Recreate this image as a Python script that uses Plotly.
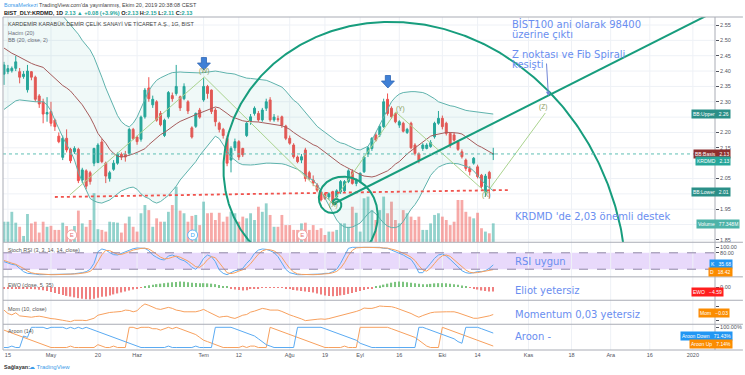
import numpy as np
import plotly.graph_objects as go

# ---------------- data ----------------
opens = [2.390, 2.398, 2.401, 2.409, 2.398, 2.382, 2.339, 2.398, 2.380, 2.319, 2.300, 2.260, 2.268, 2.240, 2.188, 2.119,
         2.181, 2.145, 2.137, 2.145, 2.045, 2.075, 2.069, 2.100, 2.102, 2.169, 2.100, 2.050, 2.080, 2.100, 2.129, 2.129,
         2.132, 2.210, 2.185, 2.178, 2.251, 2.345, 2.290, 2.300, 2.262, 2.190, 2.251, 2.320, 2.327, 2.316, 2.310, 2.300,
         2.215, 2.220, 2.273, 2.306, 2.350, 2.338, 2.273, 2.230, 2.210, 2.180, 2.110, 2.150, 2.170, 2.148, 2.190, 2.235,
         2.262, 2.262, 2.241, 2.279, 2.306, 2.241, 2.245, 2.251, 2.221, 2.181, 2.159, 2.120, 2.110, 2.143, 2.069, 2.045,
         2.029, 2.007, 2.000, 1.990, 2.007, 1.990, 2.007, 2.010, 2.040, 2.072, 2.034, 2.040, 2.072, 2.130, 2.148, 2.192,
         2.192, 2.219, 2.308, 2.279, 2.262, 2.224, 2.230, 2.200, 2.230, 2.159, 2.130, 2.148, 2.148, 2.154, 2.186, 2.230,
         2.246, 2.230, 2.197, 2.192, 2.170, 2.137, 2.110, 2.083, 2.100, 2.088, 2.061, 2.006, 2.070, 2.130]
highs = [2.430, 2.420, 2.415, 2.450, 2.410, 2.400, 2.420, 2.400, 2.385, 2.325, 2.310, 2.315, 2.300, 2.245, 2.200, 2.190,
         2.210, 2.150, 2.155, 2.150, 2.085, 2.080, 2.075, 2.150, 2.165, 2.180, 2.105, 2.075, 2.110, 2.135, 2.135, 2.140,
         2.215, 2.215, 2.190, 2.255, 2.345, 2.380, 2.320, 2.305, 2.270, 2.245, 2.335, 2.330, 2.420, 2.320, 2.360, 2.305,
         2.220, 2.265, 2.280, 2.378, 2.355, 2.340, 2.280, 2.235, 2.215, 2.190, 2.155, 2.180, 2.175, 2.150, 2.235, 2.260,
         2.285, 2.270, 2.280, 2.310, 2.315, 2.260, 2.255, 2.255, 2.225, 2.190, 2.165, 2.125, 2.130, 2.150, 2.075, 2.060,
         2.035, 2.010, 2.005, 2.005, 2.010, 2.015, 2.045, 2.045, 2.080, 2.080, 2.050, 2.070, 2.125, 2.155, 2.185, 2.200,
         2.225, 2.310, 2.327, 2.285, 2.265, 2.240, 2.235, 2.215, 2.235, 2.165, 2.135, 2.165, 2.165, 2.175, 2.235, 2.270,
         2.255, 2.235, 2.200, 2.200, 2.175, 2.145, 2.115, 2.090, 2.120, 2.095, 2.065, 2.065, 2.075, 2.150]
lows = [2.355, 2.390, 2.395, 2.400, 2.360, 2.375, 2.330, 2.370, 2.300, 2.280, 2.230, 2.235, 2.220, 2.205, 2.165, 2.110,
        2.135, 2.100, 2.130, 2.035, 2.035, 2.015, 2.030, 2.090, 2.100, 2.100, 2.035, 2.040, 2.075, 2.095, 2.110, 2.105,
        2.125, 2.175, 2.160, 2.170, 2.245, 2.300, 2.280, 2.235, 2.220, 2.185, 2.245, 2.300, 2.320, 2.270, 2.305, 2.260,
        2.180, 2.215, 2.245, 2.300, 2.310, 2.260, 2.220, 2.200, 2.180, 2.090, 2.070, 2.140, 2.110, 2.120, 2.185, 2.225,
        2.255, 2.235, 2.235, 2.270, 2.235, 2.235, 2.235, 2.215, 2.175, 2.160, 2.115, 2.100, 2.100, 2.040, 2.045, 2.025,
        2.005, 1.975, 1.980, 1.980, 1.965, 1.985, 2.000, 2.005, 2.035, 2.030, 2.025, 2.035, 2.068, 2.120, 2.140, 2.170,
        2.185, 2.215, 2.255, 2.245, 2.230, 2.215, 2.200, 2.195, 2.145, 2.125, 2.100, 2.140, 2.145, 2.150, 2.180, 2.225,
        2.210, 2.190, 2.150, 2.170, 2.140, 2.115, 2.075, 2.060, 2.095, 2.050, 2.015, 1.990, 1.985, 2.110]
closes = [2.420, 2.408, 2.409, 2.430, 2.380, 2.390, 2.400, 2.380, 2.308, 2.293, 2.260, 2.265, 2.230, 2.219, 2.170, 2.181,
          2.143, 2.108, 2.148, 2.043, 2.078, 2.025, 2.040, 2.148, 2.159, 2.105, 2.058, 2.069, 2.100, 2.129, 2.120, 2.120,
          2.210, 2.180, 2.170, 2.250, 2.338, 2.310, 2.308, 2.240, 2.225, 2.240, 2.330, 2.310, 2.350, 2.280, 2.350, 2.270,
          2.185, 2.262, 2.250, 2.350, 2.327, 2.268, 2.235, 2.210, 2.190, 2.100, 2.148, 2.170, 2.120, 2.127, 2.230, 2.251,
          2.279, 2.241, 2.273, 2.300, 2.241, 2.250, 2.242, 2.224, 2.181, 2.165, 2.121, 2.105, 2.121, 2.050, 2.050, 2.035,
          2.012, 1.980, 1.985, 2.000, 1.975, 2.010, 2.040, 2.040, 2.075, 2.034, 2.045, 2.067, 2.120, 2.150, 2.181, 2.175,
          2.219, 2.300, 2.262, 2.251, 2.235, 2.235, 2.204, 2.210, 2.150, 2.132, 2.110, 2.159, 2.159, 2.167, 2.230, 2.246,
          2.219, 2.197, 2.159, 2.175, 2.145, 2.121, 2.083, 2.072, 2.116, 2.056, 2.024, 2.058, 2.050, 2.130]
volume_m = [84, 84, 125, 80, 63, 25, 116, 77, 84, 39, 84, 63, 67, 50, 50, 80,
            66, 50, 66, 130, 77, 63, 91, 202, 53, 50, 43, 84, 82, 80, 39, 77,
            105, 63, 43, 119, 153, 132, 63, 98, 84, 84, 125, 153, 229, 130, 119, 84,
            108, 112, 70, 167, 119, 121, 91, 121, 84, 105, 125, 119, 84, 105, 98, 119,
            91, 146, 125, 160, 112, 63, 63, 112, 70, 70, 50, 50, 77, 80, 50, 70,
            50, 57, 29, 43, 43, 50, 77, 77, 63, 146, 121, 43, 181, 188, 132, 91,
            132, 188, 119, 167, 91, 77, 132, 119, 105, 91, 105, 50, 50, 77, 112, 119,
            105, 91, 70, 84, 174, 174, 125, 105, 98, 121, 57, 43, 36, 77.348]
bb_upper = [2.66, 2.66, 2.66, 2.66, 2.66, 2.66, 2.66, 2.66, 2.65, 2.645, 2.64, 2.63, 2.62, 2.61, 2.595, 2.58,
            2.565, 2.55, 2.535, 2.52, 2.50, 2.485, 2.469, 2.445, 2.415, 2.38, 2.345, 2.315, 2.28, 2.255, 2.235, 2.224,
            2.218, 2.23, 2.25, 2.28, 2.31, 2.336, 2.355, 2.37, 2.378, 2.385, 2.39, 2.395, 2.397, 2.397, 2.396, 2.395,
            2.394, 2.394, 2.394, 2.395, 2.397, 2.40, 2.40, 2.398, 2.395, 2.393, 2.392, 2.39, 2.385, 2.38, 2.377, 2.376,
            2.375, 2.373, 2.372, 2.37, 2.365, 2.36, 2.355, 2.348, 2.335, 2.32, 2.305, 2.296, 2.28, 2.265, 2.25, 2.235,
            2.22, 2.21, 2.20, 2.19, 2.18, 2.172, 2.166, 2.163, 2.157, 2.15, 2.145, 2.143, 2.148, 2.155, 2.175, 2.20,
            2.225, 2.25, 2.28, 2.30, 2.315, 2.325, 2.33, 2.332, 2.333, 2.333, 2.332, 2.33, 2.325, 2.318, 2.31, 2.30,
            2.295, 2.29, 2.287, 2.285, 2.28, 2.276, 2.272, 2.27, 2.268, 2.266, 2.265, 2.263, 2.262, 2.26]
bb_basis = [2.475, 2.465, 2.458, 2.452, 2.445, 2.437, 2.43, 2.425, 2.42, 2.417, 2.412, 2.40, 2.388, 2.375, 2.363, 2.353,
            2.345, 2.335, 2.32, 2.305, 2.29, 2.27, 2.25, 2.225, 2.197, 2.18, 2.165, 2.145, 2.132, 2.123, 2.12, 2.122,
            2.125, 2.13, 2.135, 2.14, 2.147, 2.16, 2.172, 2.183, 2.193, 2.20, 2.21, 2.22, 2.228, 2.236, 2.242, 2.248,
            2.253, 2.258, 2.263, 2.268, 2.275, 2.28, 2.283, 2.28, 2.272, 2.262, 2.252, 2.247, 2.242, 2.238, 2.236, 2.236,
            2.236, 2.234, 2.232, 2.23, 2.228, 2.226, 2.224, 2.222, 2.217, 2.21, 2.20, 2.19, 2.183, 2.176, 2.168, 2.16,
            2.155, 2.145, 2.135, 2.125, 2.115, 2.105, 2.097, 2.09, 2.083, 2.077, 2.07, 2.063, 2.058, 2.056, 2.055, 2.058,
            2.063, 2.068, 2.075, 2.085, 2.097, 2.105, 2.118, 2.13, 2.14, 2.15, 2.16, 2.17, 2.18, 2.188, 2.192, 2.195,
            2.198, 2.20, 2.20, 2.20, 2.198, 2.195, 2.185, 2.175, 2.165, 2.158, 2.152, 2.145, 2.138, 2.13]
bb_lower = [2.275, 2.285, 2.295, 2.303, 2.306, 2.304, 2.302, 2.30, 2.30, 2.30, 2.30, 2.29, 2.27, 2.24, 2.21, 2.185,
            2.16, 2.14, 2.11, 2.07, 2.04, 2.01, 1.985, 1.977, 1.972, 1.97, 1.975, 1.98, 1.99, 2.00, 2.01, 2.015,
            2.02, 2.022, 2.015, 2.00, 1.99, 1.985, 1.975, 1.97, 1.975, 1.985, 1.995, 2.01, 2.025, 2.045, 2.06, 2.075,
            2.09, 2.105, 2.125, 2.14, 2.155, 2.17, 2.188, 2.18, 2.16, 2.14, 2.12, 2.11, 2.10, 2.095, 2.094, 2.094,
            2.095, 2.097, 2.098, 2.10, 2.10, 2.10, 2.10, 2.098, 2.095, 2.09, 2.085, 2.08, 2.072, 2.06, 2.05, 2.045,
            2.03, 2.01, 1.985, 1.96, 1.935, 1.915, 1.90, 1.892, 1.89, 1.892, 1.898, 1.905, 1.92, 1.935, 1.945, 1.935,
            1.92, 1.905, 1.895, 1.89, 1.89, 1.895, 1.91, 1.93, 1.95, 1.965, 1.985, 2.01, 2.035, 2.06, 2.075, 2.087,
            2.093, 2.098, 2.10, 2.10, 2.098, 2.094, 2.09, 2.085, 2.075, 2.06, 2.045, 2.03, 2.02, 2.01]
stoch_k = [47.6, 41.5, 37.8, 35.4, 23.2, 11, 4.9, 4.9, 2.4, 0, 0, 0, 0, 0, 0, 1.2,
           1.2, 2.4, 3.7, 4.9, 7.3, 11, 19.5, 41.5, 84, 94, 90, 80.5, 73.2, 72, 78, 84,
           90, 95, 97.6, 97.6, 96.3, 87.8, 72, 63.4, 56, 53.7, 68.3, 72, 65.9, 56, 51.2, 41.5,
           26.8, 19.5, 35.4, 59.8, 72, 65.9, 47.6, 17, 4.9, 0, 7.3, 14.6, 17, 23.2, 41.5,
           56, 78, 90, 94, 92.7, 87.8, 80.5, 65.9, 41.5, 19.5, 7.3, 2.4, 0, 0, 0, 0,
           0, 1.2, 2.4, 4.9, 4.9, 11, 19.5, 41.5, 72, 96.3, 100, 100, 100, 100, 100, 100,
           100, 100, 96.3, 96.3, 90, 84, 80.5, 72, 63.4, 56, 35.4, 7.3, 7.3, 23.2, 41.5, 59.8,
           72, 75.6, 68.3, 56, 41.5, 29.3, 14.6, 7.3, 4.9, 7.3, 11, 11, 14.6, 23.2, 35.68]
stoch_d = [52, 46, 42, 38, 31, 23, 13, 7, 4, 2.5, 1, 0, 0, 0, 0, 0.5,
           1, 1.5, 2.5, 3.5, 5, 7.5, 12, 24, 48, 73, 89, 88, 81, 75, 74, 78,
           84, 90, 94, 96, 97, 94, 85, 74, 64, 58, 59, 64, 68, 64, 58, 50,
           40, 29, 27, 38, 55, 66, 62, 44, 23, 7, 4, 7, 13, 18, 26,
           40, 58, 75, 87, 92, 91, 87, 78, 63, 42, 23, 10, 3, 1, 0, 0,
           0, 0.5, 1.2, 3, 4, 7, 12, 24, 44, 70, 89, 98, 100, 100, 100, 100,
           100, 100, 98, 97, 94, 90, 85, 79, 72, 64, 52, 33, 17, 13, 24, 41,
           58, 69, 72, 67, 55, 42, 29, 17, 9, 6.5, 7.7, 10, 12, 16, 18.42]
ewo = [-1, -1, -1, -1, -1.2, -1.5, -1.7, -2, -2.3, -2.7, -3.2, -4, -5, -6, -7, -8,
       -9, -9.7, -10.5, -11.3, -12, -12.5, -12.7, -12, -11, -10, -9.5, -8.5, -7.5, -6.5, -5.5, -4.5,
       -3.5, -2.5, -1.5, -0.5, 0.8, 1.8, 2.5, 3, 3.5, 4, 4.5, 5, 5.3, 5.6, 5.5, 5,
       4.5, 4.2, 4, 4, 3.8, 3.5, 3, 2, 1, 0.3, -1.5, -2.5, -3, -3.5, -3.3,
       -1.5, -1.2, -1, -0.8, -0.6, -0.5, -0.5, -0.5, -0.6, -1.2, -2, -3, -3.5, -4, -4.5, -5,
       -5.5, -6.5, -7.5, -8.5, -9, -9.4, -9, -8.5, -8, -7, -6, -5, -4, -3, -2, -1,
       0.5, 1.5, 2.5, 3.5, 4.5, 5.3, 5.6, 5.5, 5, 4.5, 4, 3.5, 3, 3, 3.3, 3.8,
       4, 4, 3.8, 3.5, 3, 2.5, 1.5, 0.5, -0.5, -1.5, -2.5, -3.5, -4, -4.5, -4.59]
mom = [0.10, 0.0, -0.04, 0.02, -0.07, -0.08, -0.10, -0.11, -0.09, -0.08, -0.10, -0.13, -0.15, -0.16, -0.17, -0.20,
       -0.22, -0.24, -0.20, -0.19, -0.20, -0.21, -0.18, -0.14, -0.05, -0.02, 0.02, 0.03, 0.04, 0.05, 0.06, 0.10,
       0.09, 0.05, 0.08, 0.20, 0.28, 0.24, 0.18, 0.14, 0.12, 0.15, 0.18, 0.15, 0.10, 0.08, 0.05, 0.05,
       0.04, 0.05, 0.08, 0.12, 0.06, 0.0, -0.06, -0.11, -0.09, -0.08, -0.12, -0.145, -0.10, -0.05, -0.03,
       0.04, 0.07, 0.12, 0.15, 0.13, 0.10, 0.10, 0.10, 0.06, 0.0, -0.04, -0.08, -0.11, -0.16, -0.21, -0.19,
       -0.17, -0.17, -0.16, -0.17, -0.15, -0.12, -0.10, -0.07, -0.045, -0.01, 0.03, 0.06, 0.10, 0.16, 0.15, 0.15,
       0.18, 0.22, 0.21, 0.21, 0.20, 0.17, 0.13, 0.08, 0.04, 0.0, -0.06, -0.11, -0.06, -0.01, 0.02, 0.04,
       0.05, 0.05, 0.05, 0.05, 0.05, 0.02, -0.02, -0.06, -0.11, -0.14, -0.14, -0.12, -0.10, -0.07, -0.03]
aroon_up = [86, 79, 71, 64, 57, 50, 43, 36, 29, 21, 14, 7, 0, 0, 0, 0,
            0, 7, 0, 0, 0, 0, 0, 0, 14, 7, 0, 0, 7, 0, 0, 0,
            100, 100, 93, 100, 100, 100, 93, 93, 86, 93, 100, 93, 100, 93, 86, 79,
            71, 64, 50, 36, 29, 21, 14, 7, 0, 0, 0, 0, 0, 7, 0,
            7, 7, 0, 0, 0, 100, 93, 86, 79, 71, 64, 57, 50, 43, 36, 29,
            21, 14, 7, 0, 0, 0, 0, 0, 7, 0, 0, 0, 100, 100, 100, 100,
            100, 100, 100, 100, 93, 86, 79, 71, 64, 57, 50, 36, 21, 7, 0, 0,
            0, 100, 92.86, 85.71, 78.57, 71.43, 64.29, 57.14, 50, 42.86, 35.71, 28.57, 21.43, 14.29, 7.14]
aroon_down = [0, 0, 7, 0, 0, 57, 50, 100, 100, 100, 100, 93, 100, 100, 100, 100,
              93, 100, 93, 100, 93, 100, 93, 86, 79, 71, 64, 57, 50, 43, 36, 29,
              21, 14, 7, 0, 0, 0, 0, 0, 0, 0, 7, 0, 0, 0, 0, 0,
              0, 7, 0, 0, 0, 0, 100, 100, 100, 100, 100, 93, 86, 79, 71,
              64, 57, 43, 29, 14, 7, 0, 0, 0, 0, 0, 0, 100, 100, 100, 100,
              100, 100, 100, 93, 86, 79, 71, 64, 57, 50, 43, 36, 21, 14, 7, 0,
              0, 0, 0, 0, 0, 0, 0, 0, 0, 0, 0, 100, 100, 93, 86, 79,
              71, 64, 57, 50, 43, 29, 21, 100, 100, 100, 100, 93, 86, 79, 71.43]
tick_pos = [1, 12, 24, 34, 51, 60, 73, 82, 91, 101, 112, 121, 134, 145, 155, 165, 176]
tick_text = ["15", "May", "20", "Haz", "Tem", "12", "Ağu", "19", "Eyl", "16", "Eki", "14",
             "Kas", "18", "Ara", "16", "2020"]
price_ticks = [1.85, 1.90, 1.95, 2.00, 2.05, 2.10, 2.15, 2.20, 2.25, 2.30, 2.35, 2.40, 2.45, 2.50, 2.55]
price_tick_text = ["1.85", "", "1.95", "", "2.05", "", "2.15", "2.20", "", "2.30", "2.35", "2.40", "2.45",
                   "2.50", "2.55"]

# drawing anchors (bar index, price)
zigzag_x = [16.8, 51.2, 83.8, 100.1, 123.3, 138.3]
zigzag_y = [1.9963, 2.3806, 1.9702, 2.2666, 2.0028, 2.2634]
wave_labels = [("(W)", 51.2, 2.4002), ("(X)", 84.1, 1.9637), ("(Y)", 101.4, 2.2764),
               ("(X)", 123.3, 1.9963), ("(Z)", 137.8, 2.2829)]
support_x = [13.0, 128.9]
support_y = [1.9897, 2.0125]
trend_anchor = [(84.6, 1.9702), (138.3, 2.3155)]
spiral_center = (84.6, 1.9702)
spiral_ref_angle, spiral_ref_radius_px = 70.5, 192.0
arrow_tips = [(51.08, 2.4034), (98.09, 2.3448)]
events = [("E", 17.3), ("D", 48.2), ("E", 76.2)]
event_price = 1.866
last_price = 2.13

# ---------------- geometry ----------------
W, H = 745, 375
ML, MR, MT, MB = 3, 28, 17, 25
PW, PH = W - ML - MR, H - MT - MB
X_RANGE = [-0.255, 181.66]
P_RANGE = [1.8432, 2.5761]
MAIN_TOP, MAIN_BOT = 17, 242


def dom(top_px, bot_px):
    return [(MT + PH - bot_px) / PH, (MT + PH - top_px) / PH]


D_MAIN = dom(17, 242)
D_STOCH = dom(242.5, 276.7)
D_EWO = dom(277, 300)
D_MOM = dom(300.5, 324)
D_AROON = dom(324.5, 350)

XS = PW / (X_RANGE[1] - X_RANGE[0])          # px per bar
YS = (MAIN_BOT - MAIN_TOP) / (P_RANGE[1] - P_RANGE[0])  # px per price unit


def to_px(i, p):
    return ML + (i - X_RANGE[0]) * XS, MAIN_TOP + (P_RANGE[1] - p) * YS


def to_data(xp, yp):
    return X_RANGE[0] + (xp - ML) / XS, P_RANGE[1] - (yp - MAIN_TOP) / YS


def xpap(px):
    return (px - ML) / PW


def ypap(py):
    return (MT + PH - py) / PH


UP, DN = "#26a69a", "#ef5350"
GREEN = "#179d7d"
FONT = "Liberation Sans"
idx = list(range(len(closes)))

fig = go.Figure()

# volume (base axis of the main pane)
vol_colors = ["rgba(38,166,154,0.5)" if c >= o else "rgba(239,83,80,0.5)" for o, c in zip(opens, closes)]
fig.add_trace(go.Bar(x=idx, y=volume_m, marker=dict(color=vol_colors, line=dict(width=0)), width=0.72,
                     xaxis="x", yaxis="y", hoverinfo="skip"))

# Bollinger bands
fig.add_trace(go.Scatter(x=idx, y=bb_upper, mode="lines", line=dict(color="#5fb3ad", width=1),
                         xaxis="x", yaxis="y2", hoverinfo="skip"))
fig.add_trace(go.Scatter(x=idx, y=bb_lower, mode="lines", line=dict(color="#5fb3ad", width=1),
                         fill="tonexty", fillcolor="rgba(38,166,154,0.07)", xaxis="x", yaxis="y2", hoverinfo="skip"))
fig.add_trace(go.Scatter(x=idx, y=bb_basis, mode="lines", line=dict(color="#a65c5c", width=1),
                         xaxis="x", yaxis="y2", hoverinfo="skip"))

# candles
fig.add_trace(go.Candlestick(x=idx, open=opens, high=highs, low=lows, close=closes,
                             increasing=dict(line=dict(color=UP, width=1), fillcolor=UP),
                             decreasing=dict(line=dict(color=DN, width=1), fillcolor=DN),
                             whiskerwidth=0, xaxis="x", yaxis="y2", hoverinfo="skip"))

# zigzag (Elliott WXYXZ)
fig.add_trace(go.Scatter(x=zigzag_x, y=zigzag_y, mode="lines", line=dict(color="#aad38f", width=1),
                         xaxis="x", yaxis="y2", hoverinfo="skip"))

# support dotted line
fig.add_trace(go.Scatter(x=support_x, y=support_y, mode="lines", line=dict(color="#f0524c", width=1.8, dash="dot"),
                         xaxis="x", yaxis="y2", hoverinfo="skip"))

# trend line from X through Z, extended to the right edge
(tx0, ty0), (tx1, ty1) = trend_anchor
slope = (ty1 - ty0) / (tx1 - tx0)
fig.add_trace(go.Scatter(x=[tx0, X_RANGE[1]], y=[ty0, ty0 + slope * (X_RANGE[1] - tx0)], mode="lines",
                         line=dict(color=GREEN, width=2), xaxis="x", yaxis="y2", hoverinfo="skip"))

# Fibonacci spiral (golden log spiral drawn in screen space)
phi = (1 + 5 ** 0.5) / 2
cxp, cyp = to_px(*spiral_center)
theta = np.linspace(spiral_ref_angle + 4 * 360, -12, 3000)
rad = spiral_ref_radius_px * phi ** ((spiral_ref_angle - theta) / 90.0)
sx_px = cxp + rad * np.cos(np.radians(theta))
sy_px = cyp - rad * np.sin(np.radians(theta))
sx, sy = to_data(sx_px, sy_px)
fig.add_trace(go.Scatter(x=sx, y=sy, mode="lines", line=dict(color=GREEN, width=2),
                         xaxis="x", yaxis="y2", hoverinfo="skip"))

# blue down arrows
arrow_shape = [(0, 0), (-6.5, -7), (-2.6, -7), (-2.6, -12.5), (2.6, -12.5), (2.6, -7), (6.5, -7), (0, 0)]
for ti, tp in arrow_tips:
    ax_ = [ti + dx / XS for dx, dy in arrow_shape]
    ay_ = [tp - dy / YS for dx, dy in arrow_shape]
    fig.add_trace(go.Scatter(x=ax_, y=ay_, mode="lines", fill="toself", fillcolor="#3f80d6",
                             line=dict(color="#2e66b5", width=0.8), xaxis="x", yaxis="y2", hoverinfo="skip"))

# event markers (E / D)
fig.add_trace(go.Scatter(x=[e[1] for e in events], y=[event_price] * len(events), mode="markers+text",
                         text=[e[0] for e in events], textposition="middle center",
                         textfont=dict(size=6, color=["#e57373", "#42a5f5", "#e57373"], family=FONT),
                         marker=dict(size=10, color="white",
                                     line=dict(color=["#f1a1a1", "#64b5f6", "#f1a1a1"], width=1)),
                         xaxis="x", yaxis="y2", hoverinfo="skip", cliponaxis=False))

# Stoch RSI
fig.add_trace(go.Scatter(x=idx, y=stoch_k, mode="lines", line=dict(color="#5aaaf2", width=1),
                         xaxis="x2", yaxis="y3", hoverinfo="skip"))
fig.add_trace(go.Scatter(x=idx, y=stoch_d, mode="lines", line=dict(color="#f7a05e", width=1),
                         xaxis="x2", yaxis="y3", hoverinfo="skip"))

# EWO
ewo_colors = ["#7cc47f" if v >= 0 else "#f08080" for v in ewo]
fig.add_trace(go.Bar(x=idx, y=ewo, marker=dict(color=ewo_colors, line=dict(width=0)), width=0.34,
                     xaxis="x3", yaxis="y4", hoverinfo="skip"))

# Momentum
fig.add_trace(go.Scatter(x=idx, y=mom, mode="lines", line=dict(color="#f7a05e", width=1),
                         xaxis="x4", yaxis="y5", hoverinfo="skip"))

# Aroon
fig.add_trace(go.Scatter(x=idx, y=aroon_up, mode="lines", line=dict(color="#f7a05e", width=1),
                         xaxis="x5", yaxis="y6", hoverinfo="skip"))
fig.add_trace(go.Scatter(x=idx, y=aroon_down, mode="lines", line=dict(color="#5aaaf2", width=1),
                         xaxis="x5", yaxis="y6", hoverinfo="skip"))

# ---------------- shapes ----------------
shapes = []
shapes.append(dict(type="rect", xref="paper", x0=0, x1=1, yref="y3", y0=20, y1=80,
                   fillcolor="#e8d9fb", line=dict(width=0), layer="below"))
for t in tick_pos:
    shapes.append(dict(type="line", xref="x", x0=t, x1=t, yref="paper", y0=0, y1=1,
                       line=dict(color="#eef1f6", width=1), layer="below"))
for p in price_ticks:
    shapes.append(dict(type="line", xref="paper", x0=0, x1=1, yref="y2", y0=p, y1=p,
                       line=dict(color="#eef1f6", width=1), layer="below"))
for v in (80, 20):
    shapes.append(dict(type="line", xref="paper", x0=0, x1=1, yref="y3", y0=v, y1=v,
                       line=dict(color="#8f86a6", width=1, dash="dash")))
shapes.append(dict(type="line", xref="paper", x0=0, x1=1, yref="y2", y0=last_price, y1=last_price,
                   line=dict(color="#5fbfb5", width=1, dash="dot")))
frame_col = "#a9acb5"
xr = (W - ML) / PW
for py in (17, 242.25, 276.85, 300.25, 324.25, 350):
    shapes.append(dict(type="line", xref="paper", x0=0, x1=xr, yref="paper", y0=ypap(py), y1=ypap(py),
                       line=dict(color=frame_col, width=1)))
shapes.append(dict(type="line", xref="paper", x0=0, x1=0, yref="paper", y0=0, y1=1,
                   line=dict(color=frame_col, width=1)))
shapes.append(dict(type="line", xref="paper", x0=1, x1=1, yref="paper", y0=0, y1=1,
                   line=dict(color=frame_col, width=1)))

# ---------------- annotations ----------------
ann = []


def txt(text, px, py, size, color, xanchor="left", family=FONT, **kw):
    ann.append(dict(text=text, x=xpap(px), y=ypap(py), xref="paper", yref="paper", xanchor=xanchor,
                    yanchor="middle", showarrow=False, font=dict(size=size, color=color, family=family), **kw))


G = "#26a69a"
txt("<span style='color:#3d9be9'>BorsaMerkezi</span> TradingView.com'da yayınlanmış, Ekim 20, 2019 20:38:08 CEST",
    2, 5, 5.5, "#444444")
txt("<b>BIST_DLY:KRDMD, 1D</b> <span style='color:%s'><b>2.13 ▲ +0.08 (+3.9%%)</b></span> "
    "<b>O:</b><span style='color:%s'><b>2.13</b></span> <b>H:</b><span style='color:%s'><b>2.15</b></span> "
    "<b>L:</b><span style='color:%s'><b>2.11</b></span> <b>C:</b><span style='color:%s'><b>2.13</b></span>"
    % (G, G, G, G, G), 2, 13, 5.6, "#222222")
txt("KARDEMİR KARABÜK DEMİR ÇELİK SANAYİ VE TİCARET A.Ş., 1G, BIST", 6, 24.5, 5.5, "#444444")
txt("Hacim (20)", 6, 32.5, 5.4, "#6a6d78")
txt("BB (20, close, 2)", 6, 40, 5.4, "#6a6d78")
txt("Stoch RSI (3, 3, 14, 14, close)", 6, 249.5, 5.4, "#555555")
txt("EWO (close, 5, 35)", 6, 285, 5.4, "#555555")
txt("Mom (10, close)", 6, 309, 5.4, "#555555")
txt("Aroon (14)", 6, 330.5, 5.4, "#555555")
txt("<b>Sağlayan:</b>", 2, 366.5, 5.5, "#333333")
txt("☁ TradingView", 27, 366.5, 6, "#3d9be9")

BLUE_T = "#6a8ef0"
TF = "DejaVu Sans"
txt("BİST100 ani olarak 98400", 511, 24.5, 10, BLUE_T, family=TF)
txt("üzerine çıktı", 511, 34.5, 10, BLUE_T, family=TF)
txt("Z noktası ve Fib Spirali", 511, 54, 10, BLUE_T, family=TF)
txt("kesişti", 511, 64.5, 10, BLUE_T, family=TF)
txt("KRDMD 'de 2,03 önemli destek", 514, 216.5, 10, BLUE_T, family=TF)
txt("RSI uygun", 514, 261, 10, BLUE_T, family=TF)
txt("Eliot yetersiz", 514, 290.5, 10, BLUE_T, family=TF)
txt("Momentum 0,03 yetersiz", 514, 314, 10, BLUE_T, family=TF)
txt("Aroon -", 514, 336, 10, BLUE_T, family=TF)

# wave labels
for lab, li, lp in wave_labels:
    ann.append(dict(text=lab, x=li, y=lp, xref="x", yref="y2", showarrow=False, xanchor="center",
                    yanchor="middle", font=dict(size=6.5, color="#8a9a5b", family=FONT)))

# callout arrow to Z
ann.append(dict(text="", x=139.1, y=2.3187, xref="x", yref="y2", ax=-2, ay=-34, showarrow=True,
                arrowhead=2, arrowsize=0.9, arrowwidth=1, arrowcolor="#7185d6"))


def box(text, py, bg, right_px=733, size=5):
    ann.append(dict(text=text, x=xpap(right_px), y=ypap(py), xref="paper", yref="paper", xanchor="right",
                    yanchor="middle", showarrow=False, bgcolor=bg, borderpad=1,
                    font=dict(size=size, color="white", family=FONT)))


NB = "\u00a0"
box("BB:Upper" + NB * 3 + "2.26", 114, "#2b8f88")
box("BB:Basis" + NB * 3 + "2.13", 154, "#8e2e2e")
box("KRDMD" + NB * 3 + "2.13", 161, "#26a69a")
box("BB:Lower" + NB * 3 + "2.01", 192, "#2b8f88")
box("Volume" + NB * 3 + "77.348M", 224, "#4db3a8", right_px=742)
box("K" + NB * 3 + "35.68", 264, "#2196f3", right_px=735)
box("D" + NB * 3 + "18.42", 272, "#fb8c00", right_px=735)
box("EWO" + NB * 3 + "\u22124.59", 292, "#ff1e1e", right_px=726)
box("Mom" + NB * 3 + "\u22120.03", 313, "#fb8c00", right_px=732)
box("Aroon Down" + NB * 3 + "71.43%", 336, "#2196f3", right_px=735)
box("Aroon Up" + NB * 3 + "7.14%", 344, "#fb8c00", right_px=735)

# ---------------- layout ----------------
tickfont = dict(size=5.5, color="#50535e", family=FONT)
xcommon = dict(range=X_RANGE, showgrid=False, zeroline=False, showline=False, ticks="", fixedrange=True)
ycommon = dict(side="right", showgrid=False, zeroline=False, showline=False, ticks="outside", ticklen=3,
               tickcolor="#50535e", tickfont=tickfont, fixedrange=True)

fig.update_layout(
    width=W, height=H, margin=dict(l=ML, r=MR, t=MT, b=MB, pad=0),
    paper_bgcolor="white", plot_bgcolor="white", showlegend=False, barmode="overlay",
    xaxis=dict(**xcommon, anchor="y", domain=[0, 1], showticklabels=False, rangeslider=dict(visible=False)),
    xaxis2=dict(**xcommon, anchor="y3", matches="x", showticklabels=False),
    xaxis3=dict(**xcommon, anchor="y4", matches="x", showticklabels=False),
    xaxis4=dict(**xcommon, anchor="y5", matches="x", showticklabels=False),
    xaxis5=dict(**xcommon, anchor="y6", matches="x", showticklabels=True, tickmode="array",
                tickvals=tick_pos, ticktext=tick_text, tickfont=tickfont),
    yaxis=dict(domain=D_MAIN, range=[0, 931.5], visible=False, fixedrange=True),
    yaxis2=dict(**ycommon, overlaying="y", anchor="x", range=P_RANGE, tickmode="array",
                tickvals=price_ticks, ticktext=price_tick_text),
    yaxis3=dict(**ycommon, domain=D_STOCH, anchor="x2", range=[-7.4, 117.7], tickmode="array",
                tickvals=[100, 80], ticktext=["100.00", "80.00"]),
    yaxis4=dict(**ycommon, domain=D_EWO, anchor="x3", range=[-13.2, 10.3], tickmode="array",
                tickvals=[0], ticktext=["0.00"]),
    yaxis5=dict(**ycommon, domain=D_MOM, anchor="x4", range=[-0.309, 0.382], showticklabels=False),
    yaxis6=dict(**ycommon, domain=D_AROON, anchor="x5", range=[-12.4, 113.9], tickmode="array",
                tickvals=[100], ticktext=["100.00%"]),
    shapes=shapes, annotations=ann,
)

fig.write_html("out.html", config={"displayModeBar": False},
               post_script="document.body.style.margin='0';document.body.style.overflow='hidden';")
